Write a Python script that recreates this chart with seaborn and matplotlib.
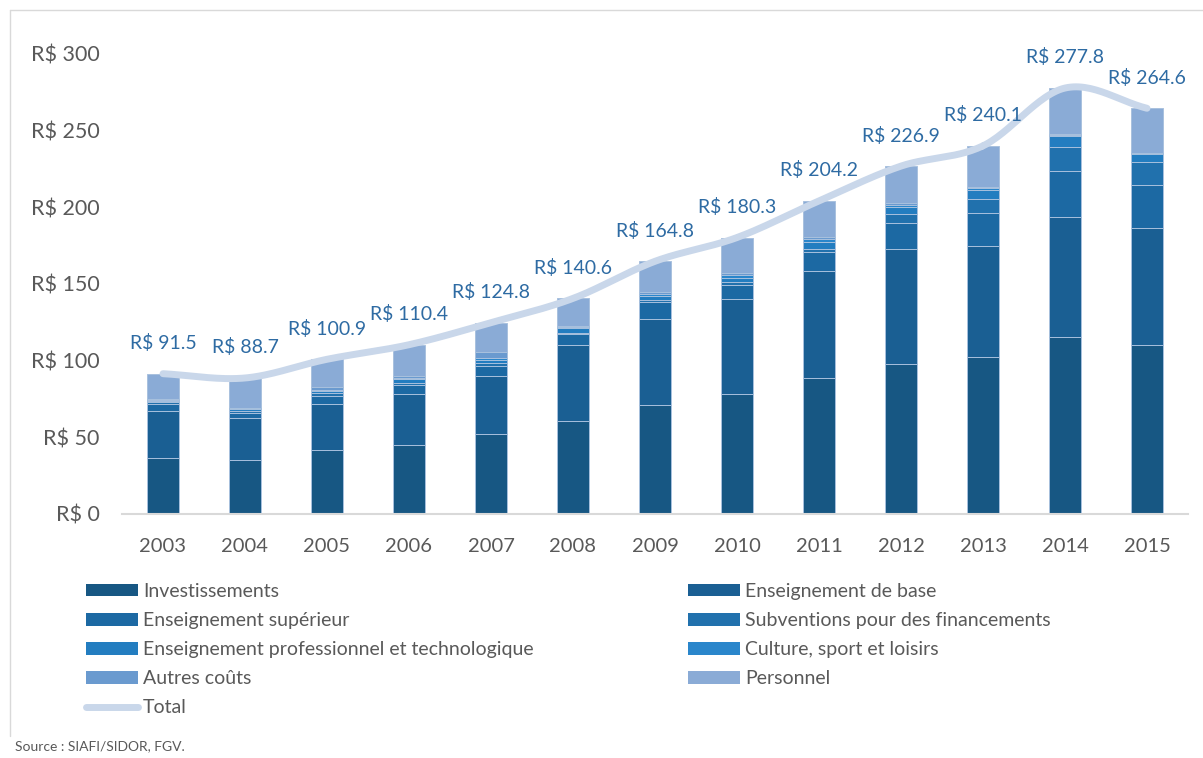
import numpy as np
import pandas as pd
import matplotlib
matplotlib.use("Agg")
import matplotlib.pyplot as plt
from matplotlib.lines import Line2D
from matplotlib.patches import Patch
import seaborn as sns

# ---- data (R$ milliards) ----
years = ["2003", "2004", "2005", "2006", "2007", "2008", "2009",
         "2010", "2011", "2012", "2013", "2014", "2015"]

investissements = [36.7, 35.2, 41.5, 44.8, 52.0, 60.9, 70.9, 78.1, 88.9, 98.0, 102.2, 115.7, 110.0]
ens_base        = [30.3, 27.6, 30.5, 33.3, 37.8, 49.1, 56.5, 61.8, 69.4, 74.7, 72.6, 78.0, 76.3]
ens_superieur   = [4.6, 3.3, 4.8, 6.0, 6.9, 7.2, 11.1, 9.5, 12.4, 16.9, 21.7, 30.0, 28.5]
subventions     = [1.3, 1.0, 2.0, 1.5, 1.6, 1.1, 1.1, 1.8, 2.3, 5.9, 9.1, 15.5, 14.6]
ens_pro         = [0.8, 1.5, 1.2, 2.3, 2.2, 2.8, 2.8, 3.0, 4.6, 4.4, 5.8, 7.4, 5.2]
culture         = [0.6, 0.5, 0.6, 1.0, 1.1, 1.0, 1.1, 1.5, 1.5, 1.3, 1.1, 0.6, 0.6]
autres          = [0.5, 0.3, 2.0, 1.4, 3.9, 0.5, 1.1, 1.8, 1.8, 1.3, 0.6, 0.5, 0.5]
personnel       = [16.7, 19.3, 18.3, 20.1, 19.3, 18.0, 20.2, 22.8, 23.3, 24.4, 27.0, 30.1, 28.9]
totals          = [91.5, 88.7, 100.9, 110.4, 124.8, 140.6, 164.8, 180.3, 204.2, 226.9, 240.1, 277.8, 264.6]

series_names = ["Investissements", "Enseignement de base", "Enseignement supérieur",
                "Subventions pour des financements",
                "Enseignement professionnel et technologique",
                "Culture, sport et loisirs", "Autres coûts", "Personnel"]
series_values = [investissements, ens_base, ens_superieur, subventions,
                 ens_pro, culture, autres, personnel]
series_colors = ["#175783", "#1a5f93", "#1c69a3", "#2171ad",
                 "#237dc0", "#2a86cb", "#6a9acf", "#8aabd6"]
total_color = "#c9d7ea"

sns.set_theme(style="white")
plt.rcParams["font.family"] = ["Lato", "DejaVu Sans"]

fig = plt.figure(figsize=(12.03, 7.58), dpi=100)
ax = fig.add_axes([122 / 1203, 1 - 514 / 758, (1188 - 122) / 1203, (514 - 54) / 758])

# stacked bars: draw cumulative heights from the top layer down
df = pd.DataFrame({name: vals for name, vals in zip(series_names, series_values)}, index=years)
cum = df.cumsum(axis=1)
for name, col in reversed(list(zip(series_names, series_colors))):
    sns.barplot(x=years, y=cum[name].values, color=col, saturation=1, width=0.4,
                edgecolor="#a9c1de", linewidth=0.7, ax=ax, zorder=2)

# smoothed total line (Catmull-Rom through the yearly totals)
xs = np.arange(len(totals), dtype=float)
ys = np.array(totals, dtype=float)
px = np.concatenate([[2 * xs[0] - xs[1]], xs, [2 * xs[-1] - xs[-2]]])
py = np.concatenate([[2 * ys[0] - ys[1]], ys, [2 * ys[-1] - ys[-2]]])
cx, cy = [], []
t = np.linspace(0, 1, 30)
for i in range(1, len(px) - 2):
    p0, p1, p2, p3 = (np.array([px[j], py[j]]) for j in range(i - 1, i + 3))
    tt = t[:, None]
    seg = 0.5 * ((2 * p1) + (-p0 + p2) * tt + (2 * p0 - 5 * p1 + 4 * p2 - p3) * tt ** 2
                 + (-p0 + 3 * p1 - 3 * p2 + p3) * tt ** 3)
    cx.extend(seg[:, 0]); cy.extend(seg[:, 1])
ax.plot(cx, cy, color=total_color, lw=5, solid_capstyle="round", zorder=4, clip_on=False)

for i, v in enumerate(totals):
    ax.annotate(f"R$ {v}", (i, v), xytext=(0, 22), textcoords="offset points",
                ha="center", va="center", fontsize=14, color="#2e6ba3",
                annotation_clip=False, zorder=5)

ax.set_ylim(0, 300)
ax.set_xlim(-0.5, len(years) - 0.5)
ax.set_yticks(range(0, 301, 50))
ax.set_yticklabels([f"R$ {v}" for v in range(0, 301, 50)])
ax.tick_params(axis="y", length=0, pad=16, labelsize=15.5, labelcolor="#595959")
ax.tick_params(axis="x", length=0, pad=17, labelsize=14.5, labelcolor="#595959")
for s in ["top", "right", "left"]:
    ax.spines[s].set_visible(False)
ax.spines["bottom"].set_color("#d9d9d9")
ax.spines["bottom"].set_linewidth(1.5)
ax.set_xlabel("")
ax.set_ylabel("")

# legend in two columns
def patch(i):
    return Patch(facecolor=series_colors[i], edgecolor="none", label=series_names[i])

left_handles = [patch(0), patch(2), patch(4), patch(6),
                Line2D([0], [0], color=total_color, lw=5, solid_capstyle="round", label="Total")]
right_handles = [patch(1), patch(3), patch(5), patch(7)]
leg_kw = dict(frameon=False, fontsize=14, handlelength=2.67, handleheight=0.62,
              handletextpad=0.26, labelspacing=0.62, labelcolor="#595959",
              borderaxespad=0, borderpad=0)
fig.legend(handles=left_handles, loc="upper left",
           bbox_to_anchor=(86 / 1203, 1 - 583 / 758), **leg_kw)
fig.legend(handles=right_handles, loc="upper left",
           bbox_to_anchor=(688 / 1203, 1 - 583 / 758), **leg_kw)

# frame lines and source note
fig.add_artist(Line2D([10 / 1203, 10 / 1203], [1 - 736 / 758, 1 - 10 / 758],
                      color="#d9d9d9", lw=1, transform=fig.transFigure))
fig.add_artist(Line2D([10 / 1203, 1.0], [1 - 10 / 758, 1 - 10 / 758],
                      color="#d9d9d9", lw=1, transform=fig.transFigure))
fig.text(15 / 1203, 1 - 746 / 758, "Source : SIAFI/SIDOR, FGV.", fontsize=10,
         color="#595959", ha="left", va="center")

fig.savefig("out.png", dpi=100)
